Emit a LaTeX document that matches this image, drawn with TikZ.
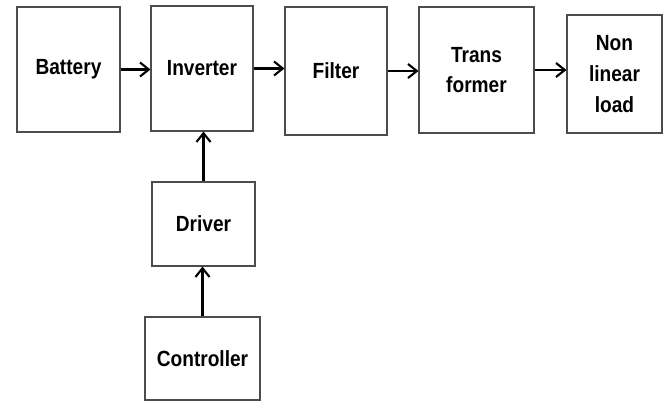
\documentclass[tikz,border=0pt]{standalone}
\usepackage{fontspec}
\setmainfont{Liberation Sans}[FakeStretch=0.87]
\usepackage{tikz}
\usetikzlibrary{arrows.meta}
\tikzset{blk/.style={draw=black!70, line width=0.6pt, inner sep=0pt, align=center,
    font=\fontsize{12.5}{17.5}\selectfont\bfseries},
  arr/.style={line width=1.2pt, -{Straight Barb[length=5pt, width=8pt]}}}
% block from corner (#2,#3) to corner (#4,#5), in pixels
\newcommand{\blk}[6]{\node[blk, minimum width={(#4-#2)*0.02cm}, minimum height={(#5-#3)*0.02cm}] (#1) at ({(#2+#4)/2},{(#3+#5)/2}) {#6};}
\begin{document}
\begin{tikzpicture}[x=0.02cm, y=-0.02cm]
        \useasboundingbox (0,0) rectangle (667,401);
        \blk{bat}{17}{7}{120}{132}{Battery}
        \blk{inv}{151}{6}{253}{131}{Inverter}
        \blk{fil}{285}{7}{387}{135}{Filter}
        \blk{tra}{419}{7}{534}{133}{Trans\\former}
        \blk{lod}{567}{15}{662}{133}{Non\\linear\\load}
        \blk{drv}{152}{182}{255}{266}{Driver}
        \blk{ctl}{145}{317}{260}{400}{Controller}

        \draw[arr] (bat.east) -- (bat.east -| inv.west);
        \draw[arr] (inv.east) -- (inv.east -| fil.west);
        \draw[arr] (fil.east) -- (fil.east -| tra.west);
        \draw[arr] (tra.east) -- (tra.east -| lod.west);
        \draw[arr] (drv.north) -- (drv.north |- inv.south);
        \draw[arr] (ctl.north) -- (ctl.north |- drv.south);
    \end{tikzpicture}
\end{document}
